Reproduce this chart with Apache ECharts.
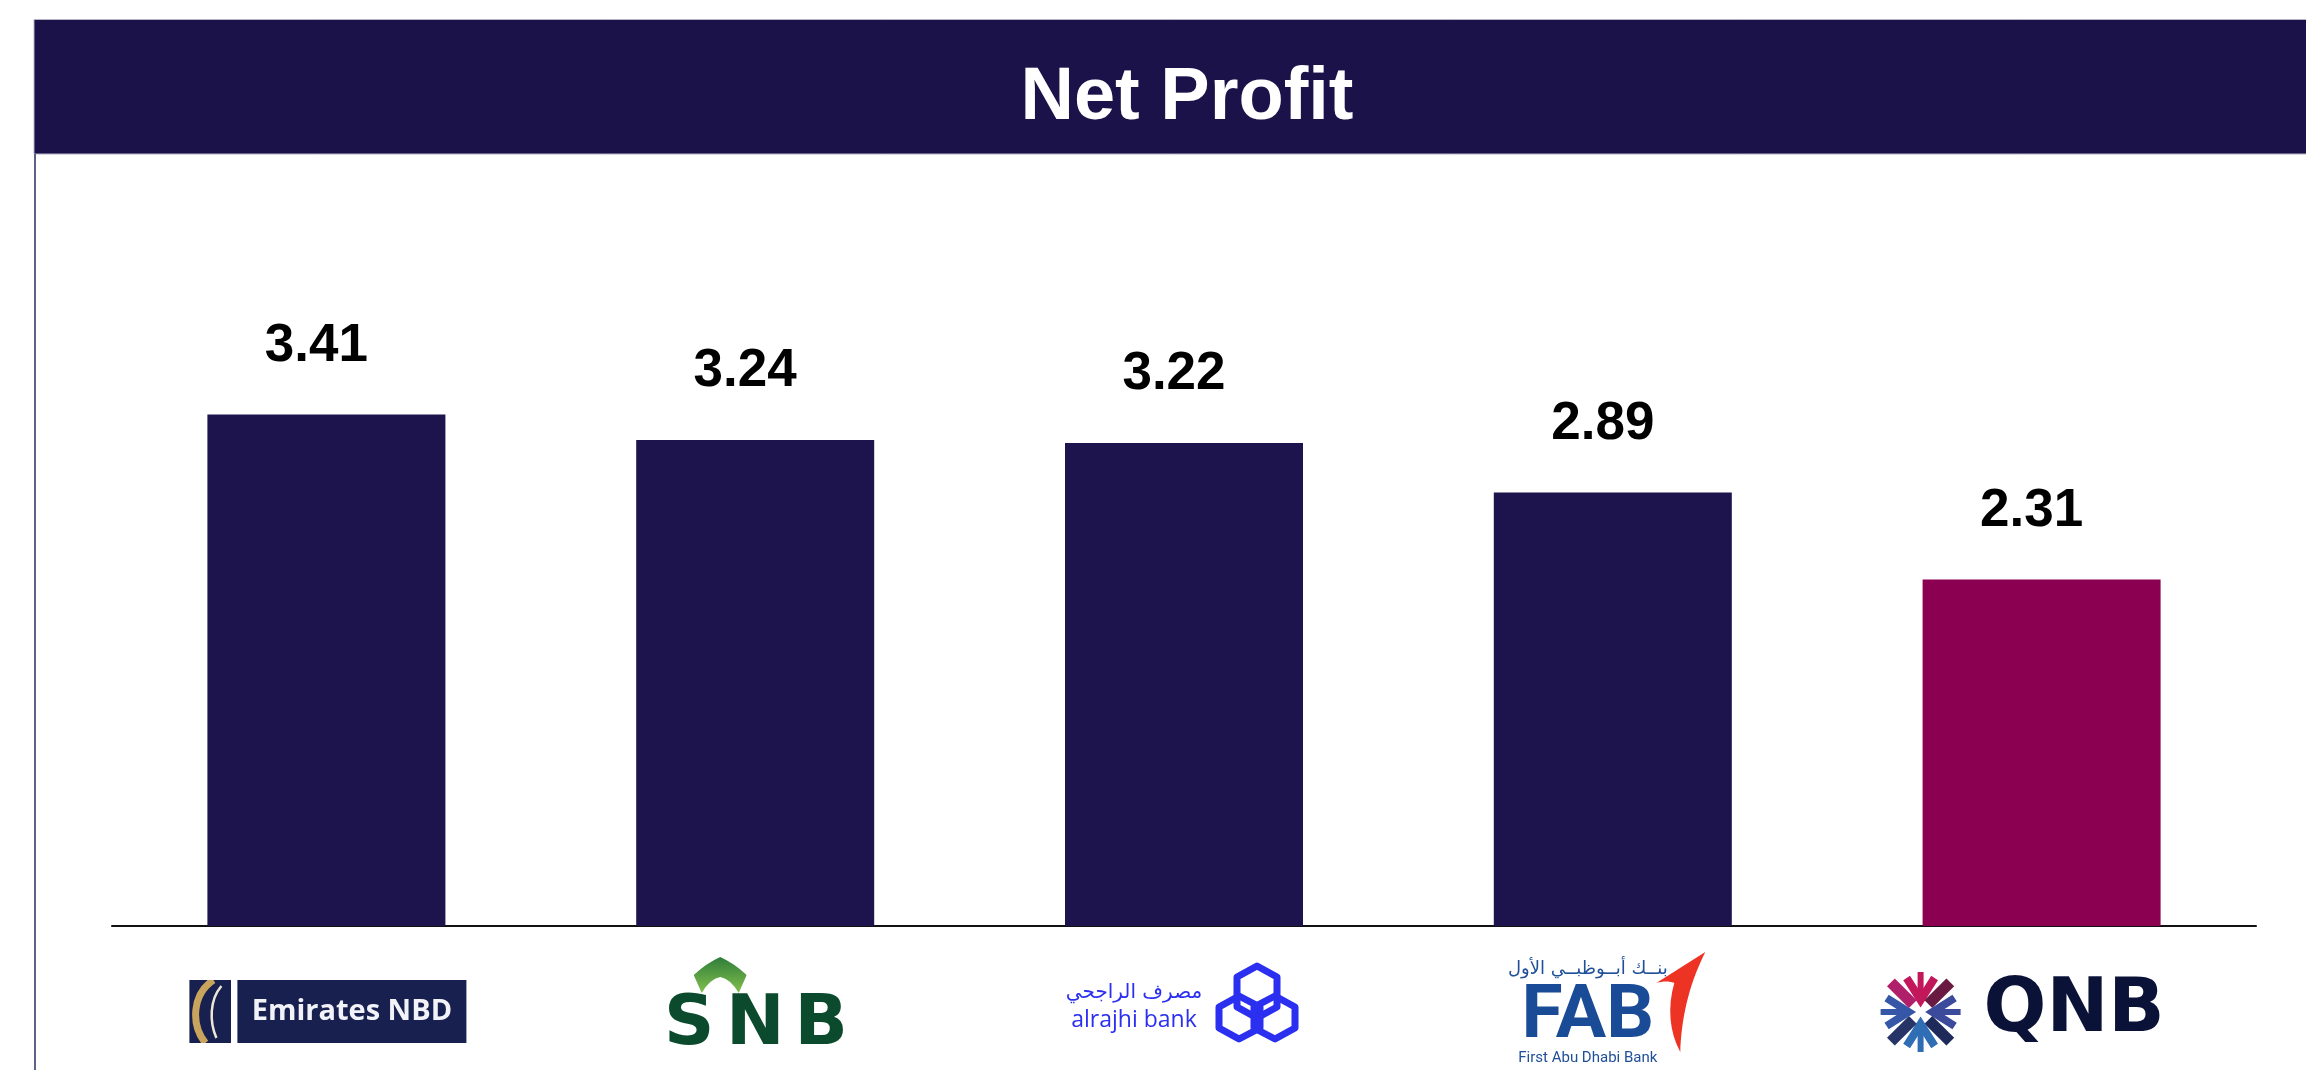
<!DOCTYPE html>
<html>
<head>
<meta charset="utf-8">
<title>Net Profit</title>
<script src="https://cdn.jsdelivr.net/npm/echarts@6/dist/echarts.min.js"></script>
<style>
html, body { margin: 0; padding: 0; background: #fff; }
#chart { width: 2306px; height: 1070px; }
</style>
</head>
<body>
<div id="chart"></div>
<script>
var banks = ['Emirates NBD', 'SNB', 'alrajhi bank', 'FAB', 'QNB'];
var netProfit = [3.41, 3.24, 3.22, 2.89, 2.31];
var highlightBank = 'QNB';
var titleText = 'Net Profit';

var navy = '#1d144d',
    maroon = '#8b0050';

function svgUrl(s) {
    return 'data:image/svg+xml;charset=utf-8,' + encodeURIComponent(s);
}

// qnb star: 8 arms pointing to the middle
function qnbStar() {
    var cols = ['#c2185b', '#6a1a42', '#3b4a9a', '#1e2a5a', '#2f6db5', '#263468', '#3656a8', '#b0206a'];
    var s = '<svg xmlns="http://www.w3.org/2000/svg" width="85" height="80" viewBox="0 0 85 80">';
    for (var k = 0; k < 8; k++) {
        var a = (k * 45 - 90) * Math.PI / 180,
            c = Math.cos(a), n = Math.sin(a),
            px = -n, py = c;
        if (k % 2) {
            s += '<line x1="' + (42.5 + 11 * c) + '" y1="' + (40 + 11 * n) +
                '" x2="' + (42.5 + 42 * c) + '" y2="' + (40 + 42 * n) +
                '" stroke="' + cols[k] + '" stroke-width="11"/>';
        } else {
            // arrow head pointing inwards
            var tip = 12, back = 34, w = 14;
            s += '<polyline fill="none" stroke="' + cols[k] + '" stroke-width="8" points="' +
                (42.5 + back * c + w * px) + ',' + (40 + back * n + w * py) + ' ' +
                (42.5 + tip * c) + ',' + (40 + tip * n) + ' ' +
                (42.5 + back * c - w * px) + ',' + (40 + back * n - w * py) + '"/>' +
                '<line x1="' + (42.5 + tip * c) + '" y1="' + (40 + tip * n) +
                '" x2="' + (42.5 + 40 * c) + '" y2="' + (40 + 40 * n) +
                '" stroke="' + cols[k] + '" stroke-width="6"/>';
        }
    }
    return svgUrl(s + '</svg>');
}

var icons = {
    enbd: svgUrl('<svg xmlns="http://www.w3.org/2000/svg" width="45" height="63" viewBox="0 0 45 63">' +
        '<rect x="3" width="42" height="63" fill="#17204f"/>' +
        '<path d="M27 0C6 14 4 44 19 63" stroke="#c9a45c" stroke-width="7" fill="none"/>' +
        '<path d="M35 6C23 20 23 42 30 58" stroke="#ece6d6" stroke-width="2.5" fill="none"/></svg>'),
    snb: svgUrl('<svg xmlns="http://www.w3.org/2000/svg" width="53" height="36" viewBox="0 0 53 36">' +
        '<defs><linearGradient id="g" x1="0" y1="0" x2="0" y2="1"><stop offset="0" stop-color="#2f7d3a"/>' +
        '<stop offset="1" stop-color="#82bf4c"/></linearGradient></defs>' +
        '<path d="M26.5 0Q40 6 53 18L45 36Q37 22 26.5 20Q16 22 8 36L0 18Q13 6 26.5 0Z" fill="url(#g)"/></svg>'),
    rajhi: svgUrl('<svg xmlns="http://www.w3.org/2000/svg" width="84" height="81" viewBox="0 0 84 81">' +
        '<g fill="none" stroke="#2b2ff0" stroke-width="7" stroke-linejoin="round">' +
        '<polygon points="42,4 62,15 62,45 42,56 22,45 22,15"/>' +
        '<polygon points="24,34 45,45 45,66 24,77 4,66 4,45"/>' +
        '<polygon points="60,34 80,45 80,66 60,77 39,66 39,45"/></g></svg>'),
    fab: svgUrl('<svg xmlns="http://www.w3.org/2000/svg" width="50" height="100" viewBox="0 0 50 100">' +
        '<path d="M49 0L0 31C7 29 13 29 18 31C11 55 13 80 24 100C25 70 31 36 49 0Z" fill="#ec3324"/></svg>'),
    qnb: qnbStar()
};

var logoText = {
    'Emirates NBD': '{sp28|}\n{enbdIcon|}{gap6|}{enbd|Emirates NBD}',
    'SNB': '{sp5|}\n{snbIcon|}{blank70|}\n{snb|S}{snb|N}{snb|B}',
    'alrajhi bank': '{sp10|}\n{rajAr|مصرف الراجحي}{gap16|}{rajIcon|}\n{rajEn|alrajhi bank}{gap16|}{blank84|}',
    'FAB': '{fabAr|بنــك أبــوظبــي الأول}{fabIcon|}\n{fab|FAB}{blank50|}\n{fabEn|First Abu Dhabi Bank}{blank50|}',
    'QNB': '{sp20|}\n{qnbIcon|}{gap20|}{qnb|QNB}{blank40|}'
};

var chart = echarts.init(document.getElementById('chart'));

var option = {
    animation: false,
    backgroundColor: '#fff',
    graphic: [{
        type: 'rect',
        shape: { x: 34, y: 19.5, width: 2280, height: 134.5 },
        style: { fill: '#1b1249', stroke: '#b4b4c4', lineWidth: 1 },
        z: 1
    }, {
        type: 'line',
        shape: { x1: 35, y1: 154, x2: 35, y2: 1070 },
        style: { stroke: '#5b6484', lineWidth: 2 },
        z: 1
    }, {
        type: 'text',
        x: 1187,
        y: 99,
        style: {
            text: titleText,
            fill: '#fff',
            font: 'bold 74px "Liberation Sans", Arial, sans-serif',
            textAlign: 'center',
            textVerticalAlign: 'middle'
        },
        z: 2
    }],
    grid: {
        left: 112,
        right: 50,
        top: 176,
        bottom: 144
    },
    xAxis: {
        type: 'category',
        data: banks,
        axisLine: { lineStyle: { color: '#111', width: 2 } },
        axisTick: { show: false },
        axisLabel: {
            interval: 0,
            margin: 26,
            formatter: function (value) {
                return logoText[value] || value;
            },
            rich: {
                sp5: { height: 5 },
                sp10: { height: 10 },
                sp20: { height: 20 },
                sp28: { height: 28 },
                gap6: { width: 6 },
                gap16: { width: 16 },
                gap20: { width: 20 },
                blank40: { width: 40 },
                blank50: { width: 50 },
                blank70: { width: 70 },
                blank84: { width: 84 },
                enbdIcon: { width: 45, height: 63, backgroundColor: { image: icons.enbd } },
                enbd: {
                    width: 229, height: 63, align: 'center',
                    backgroundColor: '#17204f', color: '#f2f3f8',
                    fontFamily: '"Open Sans", sans-serif', fontWeight: 'bold', fontSize: 29
                },
                snbIcon: { width: 53, height: 36, backgroundColor: { image: icons.snb } },
                snb: {
                    width: 66, align: 'center', lineHeight: 66,
                    color: '#0b4a2c', fontFamily: '"DejaVu Sans", sans-serif',
                    fontWeight: 'bold', fontSize: 70
                },
                rajAr: {
                    width: 130, height: 18, lineHeight: 40, verticalAlign: 'bottom', align: 'center',
                    color: '#2b2ff0', fontFamily: '"DejaVu Sans", sans-serif', fontSize: 20
                },
                rajIcon: {
                    width: 84, height: 81, lineHeight: 40, verticalAlign: 'top',
                    backgroundColor: { image: icons.rajhi }
                },
                rajEn: {
                    width: 130, lineHeight: 36, align: 'center',
                    color: '#2b2ff0', fontFamily: '"Open Sans", sans-serif', fontSize: 23
                },
                fabAr: {
                    width: 137, lineHeight: 34, align: 'center',
                    color: '#1f4f98', fontFamily: '"DejaVu Sans", sans-serif', fontSize: 18
                },
                fabIcon: {
                    width: 50, height: 100, lineHeight: 34, verticalAlign: 'top',
                    backgroundColor: { image: icons.fab }
                },
                fab: {
                    width: 137, lineHeight: 64, align: 'center',
                    color: '#1a4b97', fontFamily: 'Roboto, sans-serif',
                    fontWeight: 'bold', fontSize: 75
                },
                fabEn: {
                    width: 137, lineHeight: 16, align: 'center',
                    color: '#1f4f98', fontFamily: 'Roboto, sans-serif', fontSize: 15
                },
                qnbIcon: { width: 85, height: 80, backgroundColor: { image: icons.qnb } },
                qnb: {
                    width: 182, align: 'center',
                    color: '#0b1238', fontFamily: '"DejaVu Sans", sans-serif',
                    fontWeight: 'bold', fontSize: 74
                }
            }
        }
    },
    yAxis: {
        type: 'value',
        min: 0,
        max: 5,
        show: false
    },
    series: [{
        name: titleText,
        type: 'bar',
        barWidth: 238,
        data: netProfit,
        itemStyle: {
            color: function (p) {
                return p.name === highlightBank ? maroon : navy;
            }
        },
        label: {
            show: true,
            position: 'top',
            distance: 42,
            offset: [-10, 0],
            color: '#000',
            fontFamily: '"Liberation Sans", Arial, sans-serif',
            fontWeight: 'bold',
            fontSize: 53,
            formatter: function (p) {
                return p.value.toFixed(2);
            }
        }
    }]
};

chart.setOption(option);
</script>
</body>
</html>
